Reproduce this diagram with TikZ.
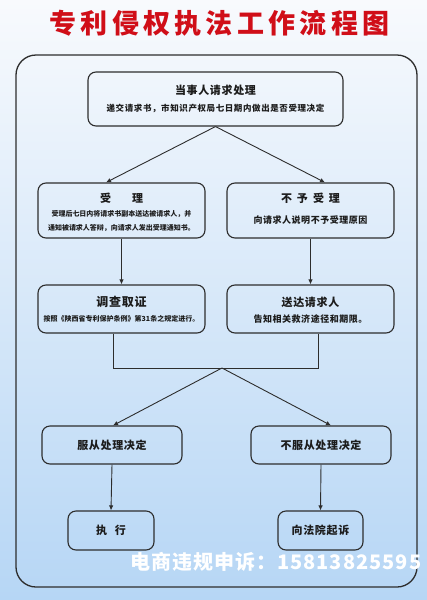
\documentclass[tikz,border=0pt]{standalone}
\usepackage{fontspec}
\setmainfont{Noto Sans CJK SC}
\usetikzlibrary{arrows.meta,calc}
\definecolor{bgtop}{RGB}{248,250,253}
\definecolor{bgbot}{RGB}{182,214,245}
\definecolor{ttlred}{RGB}{208,14,24}
\definecolor{linec}{RGB}{45,45,45}
\definecolor{txtc}{RGB}{28,28,28}
\tikzset{
  box/.style={draw=linec, line width=1.1pt, rounded corners=8pt, inner sep=0pt},
  ttl/.style={text=txtc, font=\fontsize{11}{13}\selectfont\bfseries\addfontfeature{LetterSpace=6}, inner sep=0pt},
  sub/.style={text=txtc, font=\fontsize{8.5}{10}\selectfont\bfseries\addfontfeature{LetterSpace=7}, inner sep=0pt},
  small/.style={text=txtc, font=\fontsize{7}{14}\selectfont\bfseries, inner sep=0pt, align=center},
  conn/.style={draw=linec, line width=0.9pt},
  arr/.style={conn, -{Latex[length=5pt,width=4.5pt]}},
}
\begin{document}
\begin{tikzpicture}[x=1pt,y=-1pt]
\useasboundingbox (0,0) rectangle (427,600);
\shade[top color=bgtop, bottom color=bgbot] (0,0) rectangle (427,600);
\node[text=ttlred, font=\fontsize{27}{30}\selectfont\bfseries\addfontfeature{LetterSpace=16}, inner sep=0pt] (title) at (219.5,23) {专利侵权执法工作流程图};
\draw[draw=linec, line width=1.3pt, rounded corners=20pt] (16,55) rectangle (417,587);

% boxes
\node[box, minimum width=255pt, minimum height=54pt] (b1) at (215.5,99) {};
\node[ttl] (b1t) at (215.5,90) {当事人请求处理};
\node[sub] (b1s) at (215.5,108) {递交请求书，市知识产权局七日期内做出是否受理决定};

\node[box, minimum width=167pt, minimum height=55pt] (b2) at (121.5,210.5) {};
\node[ttl] (b2t) at (121.5,198) {受\hspace{21pt}理};
\node[small] (b2s) at (121.5,221) {受理后七日内将请求书副本送达被请求人，并\\通知被请求人答辩，向请求人发出受理通知书。};

\node[box, minimum width=167pt, minimum height=55pt] (b3) at (310.5,210.5) {};
\node[ttl] (b3t) at (310.5,198) {不\hspace{5pt}予\hspace{5pt}受\hspace{5pt}理};
\node[sub, font=\fontsize{9}{10}\selectfont\bfseries\addfontfeature{LetterSpace=6}] (b3s) at (310.5,220) {向请求人说明不予受理原因};

\node[box, minimum width=167pt, minimum height=48pt] (b4) at (121.5,309) {};
\node[ttl, font=\fontsize{12}{13}\selectfont\bfseries\addfontfeature{LetterSpace=6}] (b4t) at (121.5,302) {调查取证};
\node[small] (b4s) at (121.5,319) {按照《陕西省专利保护条例》第31条之规定进行。};

\node[box, minimum width=167pt, minimum height=48pt] (b5) at (310.5,309) {};
\node[ttl] (b5t) at (310.5,302) {送达请求人};
\node[sub, font=\fontsize{9}{10}\selectfont\bfseries\addfontfeature{LetterSpace=6}] (b5s) at (310.5,319) {告知相关救济途径和期限。};

\node[box, minimum width=140pt, minimum height=38pt] (b6) at (112,445) {};
\node[ttl] (b6t) at (112,445) {服从处理决定};
\node[box, minimum width=140pt, minimum height=38pt] (b7) at (321,445) {};
\node[ttl] (b7t) at (321,445) {不服从处理决定};

\node[box, minimum width=86pt, minimum height=39pt] (b8) at (111,530.5) {};
\node[ttl] (b8t) at (111,530.5) {执\hspace{8pt}行};
\node[box, minimum width=85pt, minimum height=39pt] (b9) at (320.5,530.5) {};
\node[ttl] (b9t) at (320.5,530.5) {向法院起诉};

% connectors
\draw[arr] (b1.south) -- ([xshift=-15.5pt]b2.north);
\draw[arr] (b1.south) -- ([xshift=14.5pt]b3.north);
\draw[arr] (b2.south) -- (b4.north);
\draw[arr] (b3.south) -- (b5.north);
\coordinate (jl) at (113,368);
\coordinate (jr) at (318,368);
\coordinate (jm) at (222,368);
\draw[conn] ([xshift=-8.5pt]b4.south) -- (jl) -- (jr) -- ([xshift=7.5pt]b5.south);
\draw[arr] (jm) -- ([xshift=1pt]b6.north);
\draw[arr] (jm) -- ([xshift=10pt]b7.north);
\draw[arr] (b6.south) -- (b8.north);
\draw[arr] (b7.south) -- (b9.north);

% watermark
\node[text=white, anchor=west, font=\fontsize{20}{22}\selectfont\bfseries\addfontfeature{LetterSpace=5}, inner sep=0pt] (wm) at (130,562) {电商违规申诉：15813825595};
\end{tikzpicture}
\end{document}
